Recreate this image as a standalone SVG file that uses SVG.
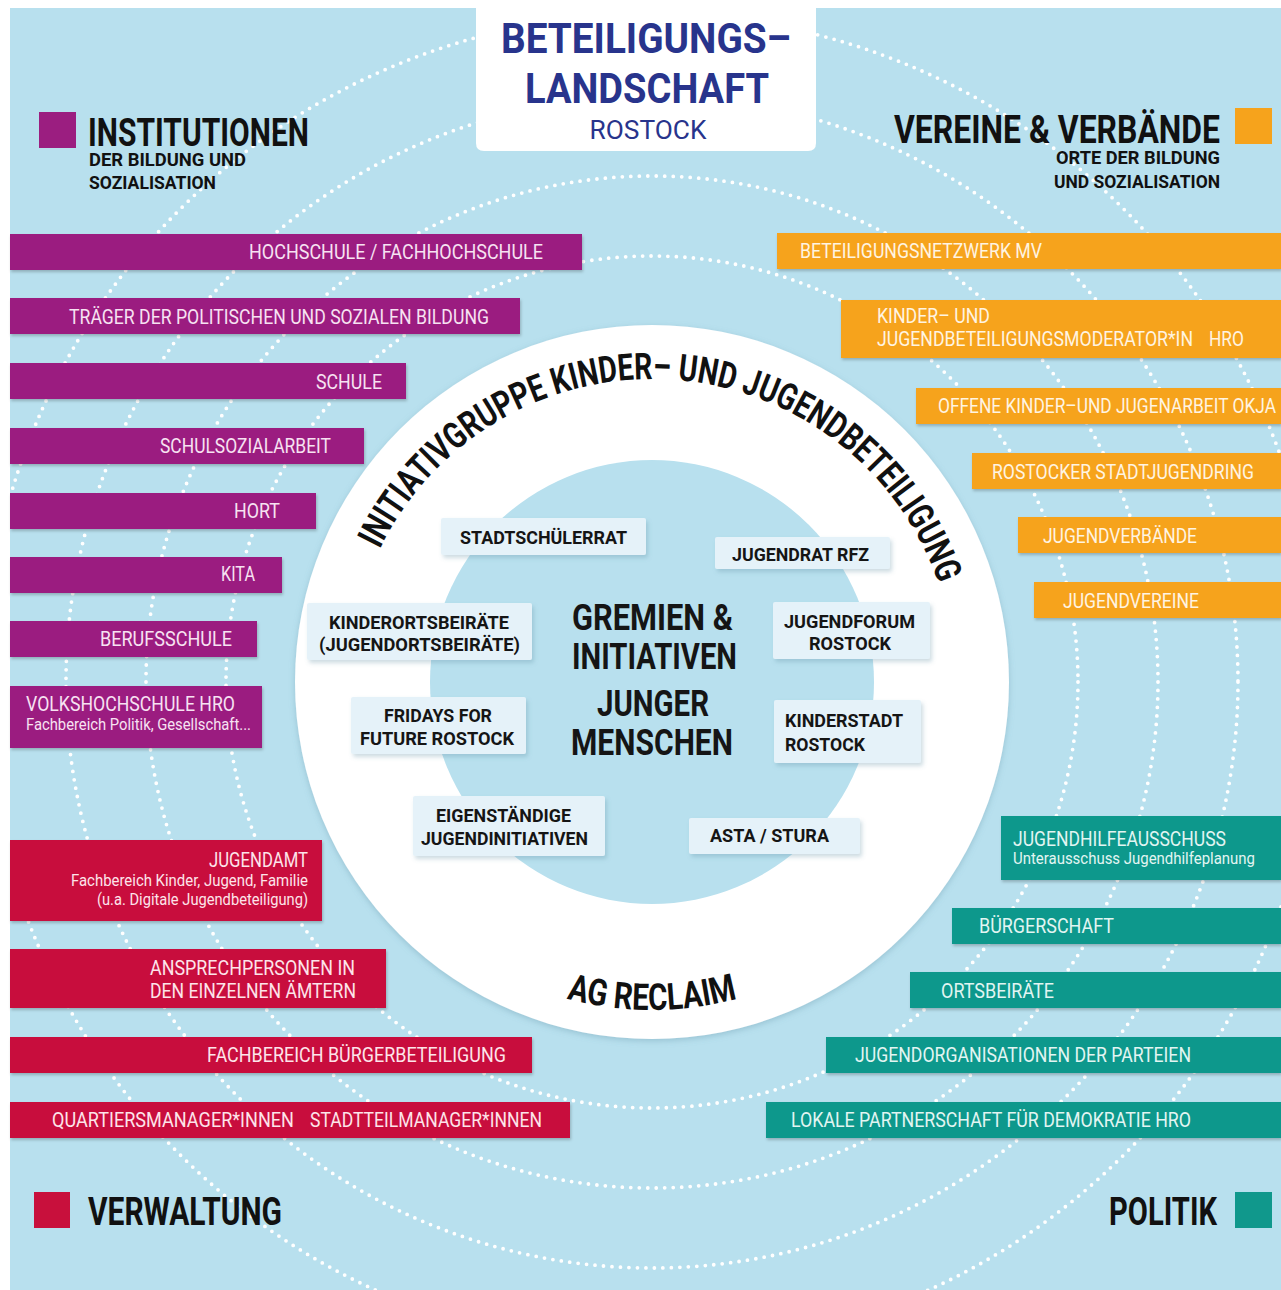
<svg xmlns="http://www.w3.org/2000/svg" xmlns:xlink="http://www.w3.org/1999/xlink" width="1281" height="1290" viewBox="0 0 1281 1290">
<defs>
<style>
.dot{fill:none;stroke:#fff;stroke-width:3.8;stroke-linecap:round;stroke-dasharray:0 8.5}
.t{font-family:Roboto,"Liberation Sans",sans-serif}
.head{font-family:Roboto,"Liberation Sans",sans-serif;font-weight:700;font-size:38px;fill:#111}
.sub{font-family:Roboto,"Liberation Sans",sans-serif;font-weight:700;font-size:19px;fill:#111}
.bl{font-family:Roboto,"Liberation Sans",sans-serif;font-weight:400;font-size:20px}
.bs{font-family:Roboto,"Liberation Sans",sans-serif;font-weight:400;font-size:16px}
.pur{fill:#9b1e80}
.red{fill:#c8103c}
.ora{fill:#f6a31c}
.tea{fill:#10988c}
.tp{fill:#f7e2f2}
.tr{fill:#fde4ea}
.to{fill:#fff4e2}
.tt{fill:#e2f5f2}
.box{fill:#e5f2f9}
.bx{font-family:Roboto,"Liberation Sans",sans-serif;font-weight:700;font-size:19px;fill:#151515}
.ctr{font-family:Roboto,"Liberation Sans",sans-serif;font-weight:700;font-size:36px;fill:#151515}
.ttl{font-family:Roboto,"Liberation Sans",sans-serif;font-weight:700;font-size:43px;fill:#28348c}
.arc{font-family:Roboto,"Liberation Sans",sans-serif;font-weight:700;font-size:37px;fill:#111}
</style>
<filter id="sh" x="-5%" y="-30%" width="112%" height="170%">
<feDropShadow dx="1" dy="2" stdDeviation="1.5" flood-color="#000" flood-opacity="0.22"/>
</filter>
<filter id="shb" x="-10%" y="-30%" width="125%" height="170%">
<feDropShadow dx="2" dy="3" stdDeviation="2" flood-color="#5a8aa0" flood-opacity="0.3"/>
</filter>
<filter id="shr" x="-10%" y="-10%" width="120%" height="120%">
<feDropShadow dx="0" dy="2" stdDeviation="3" flood-color="#5a8aa0" flood-opacity="0.35"/>
</filter>
<path id="arcTop" d="M379.7,549.2 A303,303 0 0 1 938.5,583.3"/>
<path id="arcBot" d="M420.1,913.9 A328,328 0 0 0 883.9,913.9"/>
</defs>

<rect x="0" y="0" width="1281" height="1290" fill="#fff"/>
<rect x="10" y="8" width="1271" height="1282" fill="#b8e0ee"/>

<g id="rings">
<circle class="dot" cx="652" cy="682" r="426"/>
<circle class="dot" cx="652" cy="682" r="506"/>
<circle class="dot" cx="652" cy="682" r="586"/>
<circle class="dot" cx="652" cy="682" r="668"/>
</g>

<g id="connectors"></g>

<g id="title">
<path d="M476,0 H816 V143 Q816,151 808,151 H484 Q476,151 476,143 Z" fill="#fff"/>
<text class="ttl" x="646" y="53" text-anchor="middle" textLength="290" lengthAdjust="spacingAndGlyphs">BETEILIGUNGS–</text>
<text class="ttl" x="647" y="103" text-anchor="middle" textLength="244" lengthAdjust="spacingAndGlyphs">LANDSCHAFT</text>
<text class="t" x="648" y="139" text-anchor="middle" font-size="26" fill="#28348c" textLength="117" lengthAdjust="spacingAndGlyphs">ROSTOCK</text>
</g>

<g id="legend-institutionen">
<rect class="pur" x="39" y="112" width="37" height="36"/>
<text class="head" x="88" y="146" textLength="221" lengthAdjust="spacingAndGlyphs">INSTITUTIONEN</text>
<text class="sub" x="89" y="166" textLength="157" lengthAdjust="spacingAndGlyphs">DER BILDUNG UND</text>
<text class="sub" x="89" y="189" textLength="127" lengthAdjust="spacingAndGlyphs">SOZIALISATION</text>
</g>

<g id="legend-vereine">
<rect class="ora" x="1235" y="108" width="37" height="36"/>
<text class="head" x="894" y="143" textLength="326" lengthAdjust="spacingAndGlyphs">VEREINE &amp; VERBÄNDE</text>
<text class="sub" x="1220" y="164" text-anchor="end" textLength="164" lengthAdjust="spacingAndGlyphs">ORTE DER BILDUNG</text>
<text class="sub" x="1220" y="188" text-anchor="end" textLength="166" lengthAdjust="spacingAndGlyphs">UND SOZIALISATION</text>
</g>

<g id="legend-verwaltung">
<rect class="red" x="34" y="1192" width="36" height="36"/>
<text class="head" x="88" y="1225" textLength="194" lengthAdjust="spacingAndGlyphs">VERWALTUNG</text>
</g>

<g id="legend-politik">
<rect class="tea" x="1235" y="1192" width="37" height="36"/>
<text class="head" x="1109" y="1225" textLength="108" lengthAdjust="spacingAndGlyphs">POLITIK</text>
</g>

<!-- Institutionen bars -->
<g id="n-hochschule"><rect class="pur" x="10" y="234" width="572" height="36" filter="url(#sh)"/><text class="bl tp" x="249" y="259" textLength="294" lengthAdjust="spacingAndGlyphs">HOCHSCHULE / FACHHOCHSCHULE</text></g>
<g id="n-traeger"><rect class="pur" x="10" y="298" width="510" height="36" filter="url(#sh)"/><text class="bl tp" x="69" y="324" textLength="420" lengthAdjust="spacingAndGlyphs">TRÄGER DER POLITISCHEN UND SOZIALEN BILDUNG</text></g>
<g id="n-schule"><rect class="pur" x="10" y="363" width="396" height="36" filter="url(#sh)"/><text class="bl tp" x="316" y="389" textLength="66" lengthAdjust="spacingAndGlyphs">SCHULE</text></g>
<g id="n-schulsozialarbeit"><rect class="pur" x="10" y="428" width="354" height="36" filter="url(#sh)"/><text class="bl tp" x="160" y="453" textLength="171" lengthAdjust="spacingAndGlyphs">SCHULSOZIALARBEIT</text></g>
<g id="n-hort"><rect class="pur" x="10" y="493" width="306" height="36" filter="url(#sh)"/><text class="bl tp" x="234" y="518" textLength="46" lengthAdjust="spacingAndGlyphs">HORT</text></g>
<g id="n-kita"><rect class="pur" x="10" y="557" width="272" height="36" filter="url(#sh)"/><text class="bl tp" x="221" y="581" textLength="34" lengthAdjust="spacingAndGlyphs">KITA</text></g>
<g id="n-berufsschule"><rect class="pur" x="10" y="621" width="247" height="36" filter="url(#sh)"/><text class="bl tp" x="100" y="646" textLength="132" lengthAdjust="spacingAndGlyphs">BERUFSSCHULE</text></g>
<g id="n-volkshochschule"><rect class="pur" x="10" y="686" width="252" height="62" filter="url(#sh)"/><text class="bl tp" x="26" y="711" textLength="209" lengthAdjust="spacingAndGlyphs">VOLKSHOCHSCHULE HRO</text><text class="bs tp" x="26" y="730" textLength="225" lengthAdjust="spacingAndGlyphs">Fachbereich Politik, Gesellschaft...</text></g>

<!-- Verwaltung bars -->
<g id="n-jugendamt"><rect class="red" x="10" y="840" width="312" height="81" filter="url(#sh)"/><text class="bl tr" x="209" y="867" textLength="99" lengthAdjust="spacingAndGlyphs">JUGENDAMT</text><text class="bs tr" x="71" y="886" textLength="237" lengthAdjust="spacingAndGlyphs">Fachbereich Kinder, Jugend, Familie</text><text class="bs tr" x="97" y="905" textLength="211" lengthAdjust="spacingAndGlyphs">(u.a. Digitale Jugendbeteiligung)</text></g>
<g id="n-ansprechpersonen"><rect class="red" x="10" y="949" width="376" height="59" filter="url(#sh)"/><text class="bl tr" x="150" y="975" textLength="205" lengthAdjust="spacingAndGlyphs">ANSPRECHPERSONEN IN</text><text class="bl tr" x="150" y="998" textLength="206" lengthAdjust="spacingAndGlyphs">DEN EINZELNEN ÄMTERN</text></g>
<g id="n-buergerbeteiligung"><rect class="red" x="10" y="1037" width="522" height="36" filter="url(#sh)"/><text class="bl tr" x="207" y="1062" textLength="299" lengthAdjust="spacingAndGlyphs">FACHBEREICH BÜRGERBETEILIGUNG</text></g>
<g id="n-quartiersmanager"><rect class="red" x="10" y="1102" width="560" height="36" filter="url(#sh)"/><text class="bl tr" x="52" y="1127" textLength="242" lengthAdjust="spacingAndGlyphs">QUARTIERSMANAGER*INNEN</text><text class="bl tr" x="310" y="1127" textLength="232" lengthAdjust="spacingAndGlyphs">STADTTEILMANAGER*INNEN</text></g>

<!-- Vereine bars -->
<g id="n-beteiligungsnetzwerk"><rect class="ora" x="777" y="233" width="504" height="36" filter="url(#sh)"/><text class="bl to" x="800" y="258" textLength="242" lengthAdjust="spacingAndGlyphs">BETEILIGUNGSNETZWERK MV</text></g>
<g id="n-moderator"><rect class="ora" x="841" y="300" width="440" height="58" filter="url(#sh)"/><text class="bl to" x="877" y="323" textLength="113" lengthAdjust="spacingAndGlyphs">KINDER– UND</text><text class="bl to" x="877" y="346" textLength="316" lengthAdjust="spacingAndGlyphs">JUGENDBETEILIGUNGSMODERATOR*IN</text><text class="bl to" x="1209" y="346" textLength="35" lengthAdjust="spacingAndGlyphs">HRO</text></g>
<g id="n-okja"><rect class="ora" x="916" y="388" width="365" height="36" filter="url(#sh)"/><text class="bl to" x="938" y="413" textLength="338" lengthAdjust="spacingAndGlyphs">OFFENE KINDER–UND JUGENARBEIT OKJA</text></g>
<g id="n-stadtjugendring"><rect class="ora" x="972" y="453" width="309" height="36" filter="url(#sh)"/><text class="bl to" x="992" y="479" textLength="262" lengthAdjust="spacingAndGlyphs">ROSTOCKER STADTJUGENDRING</text></g>
<g id="n-jugendverbaende"><rect class="ora" x="1018" y="517" width="263" height="36" filter="url(#sh)"/><text class="bl to" x="1043" y="543" textLength="154" lengthAdjust="spacingAndGlyphs">JUGENDVERBÄNDE</text></g>
<g id="n-jugendvereine"><rect class="ora" x="1034" y="582" width="247" height="36" filter="url(#sh)"/><text class="bl to" x="1063" y="608" textLength="136" lengthAdjust="spacingAndGlyphs">JUGENDVEREINE</text></g>

<!-- Politik bars -->
<g id="n-jugendhilfeausschuss"><rect class="tea" x="1001" y="816" width="280" height="64" filter="url(#sh)"/><text class="bl tt" x="1013" y="846" textLength="213" lengthAdjust="spacingAndGlyphs">JUGENDHILFEAUSSCHUSS</text><text class="bs tt" x="1013" y="864" textLength="242" lengthAdjust="spacingAndGlyphs">Unterausschuss Jugendhilfeplanung</text></g>
<g id="n-buergerschaft"><rect class="tea" x="952" y="908" width="329" height="36" filter="url(#sh)"/><text class="bl tt" x="979" y="933" textLength="135" lengthAdjust="spacingAndGlyphs">BÜRGERSCHAFT</text></g>
<g id="n-ortsbeiraete"><rect class="tea" x="910" y="972" width="371" height="36" filter="url(#sh)"/><text class="bl tt" x="941" y="998" textLength="113" lengthAdjust="spacingAndGlyphs">ORTSBEIRÄTE</text></g>
<g id="n-jugendorganisationen"><rect class="tea" x="826" y="1037" width="455" height="36" filter="url(#sh)"/><text class="bl tt" x="855" y="1062" textLength="336" lengthAdjust="spacingAndGlyphs">JUGENDORGANISATIONEN DER PARTEIEN</text></g>
<g id="n-partnerschaft"><rect class="tea" x="766" y="1102" width="515" height="36" filter="url(#sh)"/><text class="bl tt" x="791" y="1127" textLength="400" lengthAdjust="spacingAndGlyphs">LOKALE PARTNERSCHAFT FÜR DEMOKRATIE HRO</text></g>

<!-- central ring -->
<g id="ring">
<circle cx="652" cy="682" r="357" fill="#fff" filter="url(#shr)"/>
<circle cx="652" cy="682" r="222" fill="#b8e0ee"/>
</g>
<g id="n-initiativgruppe">
<text class="arc"><textPath href="#arcTop" xlink:href="#arcTop" textLength="714" lengthAdjust="spacingAndGlyphs">INITIATIVGRUPPE KINDER– UND JUGENDBETEILIGUNG</textPath></text>
</g>
<g id="n-agreclaim">
<text class="arc" font-size="33" text-anchor="middle"><textPath href="#arcBot" xlink:href="#arcBot" startOffset="50%" textLength="173" lengthAdjust="spacingAndGlyphs">AG RECLAIM</textPath></text>
</g>

<g id="n-center">
<text class="ctr" x="572" y="630" textLength="161" lengthAdjust="spacingAndGlyphs">GREMIEN &amp;</text>
<text class="ctr" x="572" y="669" textLength="165" lengthAdjust="spacingAndGlyphs">INITIATIVEN</text>
<text class="ctr" x="597" y="716" textLength="112" lengthAdjust="spacingAndGlyphs">JUNGER</text>
<text class="ctr" x="571" y="755" textLength="162" lengthAdjust="spacingAndGlyphs">MENSCHEN</text>
</g>

<g id="n-stadtschuelerrat"><rect class="box" x="441" y="518" width="205" height="37" rx="2" filter="url(#shb)"/><text class="bx" x="460" y="544" textLength="167" lengthAdjust="spacingAndGlyphs">STADTSCHÜLERRAT</text></g>
<g id="n-jugendrat"><rect class="box" x="715" y="537" width="175" height="32" rx="2" filter="url(#shb)"/><text class="bx" x="732" y="561" textLength="137" lengthAdjust="spacingAndGlyphs">JUGENDRAT RFZ</text></g>
<g id="n-kinderortsbeiraete"><rect class="box" x="307" y="603" width="225" height="57" rx="2" filter="url(#shb)"/><text class="bx" x="329" y="629" textLength="180" lengthAdjust="spacingAndGlyphs">KINDERORTSBEIRÄTE</text><text class="bx" x="319" y="651" textLength="201" lengthAdjust="spacingAndGlyphs">(JUGENDORTSBEIRÄTE)</text></g>
<g id="n-jugendforum"><rect class="box" x="773" y="602" width="157" height="57" rx="2" filter="url(#shb)"/><text class="bx" x="784" y="628" textLength="131" lengthAdjust="spacingAndGlyphs">JUGENDFORUM</text><text class="bx" x="809" y="650" textLength="82" lengthAdjust="spacingAndGlyphs">ROSTOCK</text></g>
<g id="n-fridays"><rect class="box" x="351" y="697" width="175" height="57" rx="2" filter="url(#shb)"/><text class="bx" x="384" y="722" textLength="108" lengthAdjust="spacingAndGlyphs">FRIDAYS FOR</text><text class="bx" x="360" y="745" textLength="154" lengthAdjust="spacingAndGlyphs">FUTURE ROSTOCK</text></g>
<g id="n-kinderstadt"><rect class="box" x="774" y="700" width="147" height="63" rx="2" filter="url(#shb)"/><text class="bx" x="785" y="727" textLength="118" lengthAdjust="spacingAndGlyphs">KINDERSTADT</text><text class="bx" x="785" y="751" textLength="80" lengthAdjust="spacingAndGlyphs">ROSTOCK</text></g>
<g id="n-eigenstaendige"><rect class="box" x="413" y="796" width="192" height="60" rx="2" filter="url(#shb)"/><text class="bx" x="436" y="822" textLength="135" lengthAdjust="spacingAndGlyphs">EIGENSTÄNDIGE</text><text class="bx" x="421" y="845" textLength="167" lengthAdjust="spacingAndGlyphs">JUGENDINITIATIVEN</text></g>
<g id="n-asta"><rect class="box" x="689" y="818" width="171" height="36" rx="2" filter="url(#shb)"/><text class="bx" x="710" y="842" textLength="119" lengthAdjust="spacingAndGlyphs">ASTA / STURA</text></g>
</svg>
